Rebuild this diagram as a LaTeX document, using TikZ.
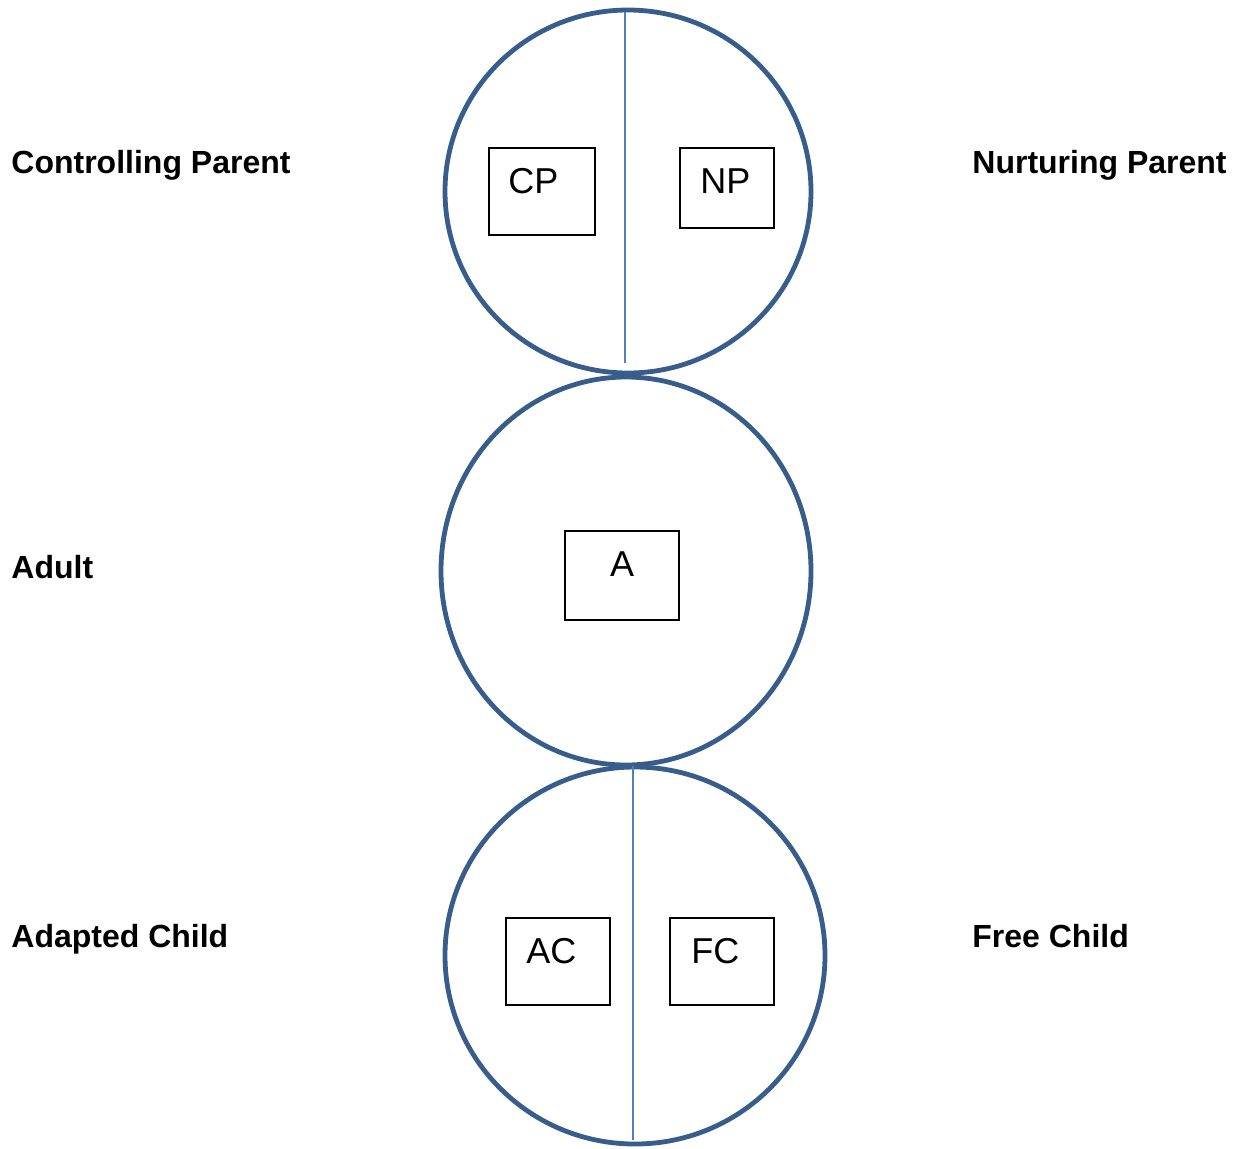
\documentclass[tikz,border=0pt]{standalone}
\usepackage{fontspec}
\setmainfont{Liberation Sans}
\usetikzlibrary{shapes.geometric}
\definecolor{ringblue}{HTML}{385D8A}
\definecolor{splitblue}{HTML}{4F81BD}
\begin{document}
\begin{tikzpicture}[x=0.5pt,y=-0.5pt,
  ring/.style={draw=ringblue, line width=2.4pt, ellipse, inner sep=0pt},
  split/.style={draw=splitblue, line width=1.1pt},
  statebox/.style={draw=black, line width=0.9pt, rectangle, inner sep=0pt, anchor=north west},
  boxtext/.style={anchor=base west, inner sep=0pt, font=\fontsize{18}{21}\selectfont},
  egolabel/.style={anchor=base west, inner sep=0pt, font=\fontsize{16}{19}\selectfont\bfseries}]
  \useasboundingbox (0,0) rectangle (1237,1148);

  % the three ego-state circles
  \node[ring, minimum width=183pt, minimum height=181.5pt] (parent) at (628,191.5) {};
  \node[ring, minimum width=185pt, minimum height=194pt] (adult) at (626,571) {};
  \node[ring, minimum width=190pt, minimum height=188.5pt] (child) at (635,955.5) {};

  % dividing lines of the parent and child circles
  \coordinate (ptop) at (625,12);
  \coordinate (pbot) at (625,363);
  \coordinate (ctop) at (633,766);
  \coordinate (cbot) at (633,1140);
  \draw[split] (ptop) -- (pbot);
  \draw[split] (ctop) -- (cbot);

  % boxes inside the circles
  \node[statebox, minimum width=53pt, minimum height=43.5pt] (cpbox) at (488,147) {};
  \node[statebox, minimum width=47pt, minimum height=40pt] (npbox) at (679,147) {};
  \node[statebox, minimum width=57pt, minimum height=44.5pt] (abox) at (564,530) {};
  \node[statebox, minimum width=52pt, minimum height=43.5pt] (acbox) at (505,917) {};
  \node[statebox, minimum width=52pt, minimum height=43.5pt] (fcbox) at (669,917) {};

  \node[boxtext] (cp) at (508,193) {CP};
  \node[boxtext] (np) at (700,193) {NP};
  \node[boxtext, anchor=base] (a) at (622,576) {A};
  \node[boxtext] (ac) at (526,963) {AC};
  \node[boxtext] (fc) at (691,963) {FC};

  % ego-state names
  \node[egolabel] (lcp) at (11,173) {Controlling Parent};
  \node[egolabel] (lnp) at (972,173) {Nurturing Parent};
  \node[egolabel] (la) at (11,578) {Adult};
  \node[egolabel] (lac) at (11,947) {Adapted Child};
  \node[egolabel] (lfc) at (972,947) {Free Child};
\end{tikzpicture}
\end{document}
